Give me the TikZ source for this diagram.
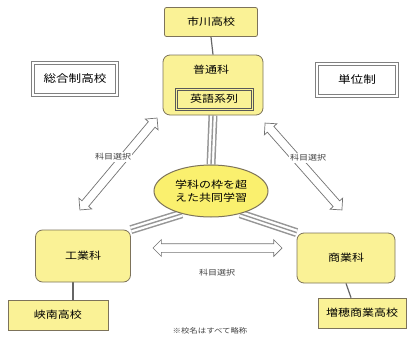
\documentclass[tikz,border=0pt]{standalone}
\usepackage{fontspec}
\newfontfamily\jp[FakeStretch=1.2]{Noto Sans CJK JP}
\usetikzlibrary{shapes.geometric,shapes.arrows,backgrounds}
\definecolor{ylw}{RGB}{250,242,150}
\definecolor{ylwb}{RGB}{125,115,90}
\definecolor{ellf}{RGB}{250,240,110}
\definecolor{lgray}{RGB}{150,150,150}
\begin{document}
\begin{tikzpicture}[x=1pt,y=-1pt,
  ybox/.style={draw=ylwb, fill=ylw, line width=0.8pt, rounded corners=2pt, inner sep=0pt,
    font=\jp\fontsize{10}{12}\selectfont},
  kbox/.style={ybox, rounded corners=7pt},
  gbox/.style={draw=black!50, double=white, double distance=2.6pt, line width=1pt, fill=white,
    inner sep=0pt, font=\jp\fontsize{10.5}{12}\selectfont},
  txt/.style={font=\jp\fontsize{10}{12}\selectfont, inner sep=0pt},
  lab/.style={font=\jp\fontsize{7.5}{9}\selectfont, fill=white, inner sep=1.2pt, text=black!75},
  triple/.style={draw=lgray, line width=9pt, postaction={draw=white, line width=6pt},
    postaction={draw=lgray, line width=1.4pt}},
  conn/.style={draw=black!60, line width=1.2pt},
  darr/.style={double arrow, draw=black!55, fill=white, line width=0.7pt, inner xsep=0pt,
    inner ysep=4pt, double arrow head extend=4pt, double arrow head indent=0pt}
]
\useasboundingbox (0,0) rectangle (410,343);

% top school and general course
\node[ybox, minimum width=93pt, minimum height=29pt] (ichi) at (211,22) {市川高校};
\node[kbox, minimum width=100pt, minimum height=60pt] (futsu) at (213,85) {};
\node[txt] (futsuT) at (211,70) {普通科};
\node[draw=black!65, line width=0.6pt, fill=ylw, inner sep=0pt, font=\jp\fontsize{10}{12}\selectfont,
  minimum width=78pt, minimum height=22pt] (eigo) at (214,99) {英語系列};
\draw[black!65, line width=0.5pt] ([shift={(2.2,2.2)}]eigo.north west) rectangle ([shift={(-2.2,-2.2)}]eigo.south east);

% side boxes
\node[gbox, minimum width=84pt, minimum height=32pt] (sogo) at (75,79) {総合制高校};
\node[gbox, minimum width=80pt, minimum height=32pt] (tani) at (357,80) {単位制};

% center ellipse
\node[ellipse, draw=ylwb, fill=ellf, line width=1pt, minimum width=114pt, minimum height=52pt,
  inner sep=0pt, align=center, font=\jp\fontsize{10}{12.5}\selectfont] (ell) at (211,191)
  {学科の枠を超\\えた共同学習};

% bottom departments
\node[kbox, minimum width=95pt, minimum height=52pt] (kogyo) at (83,256) {工業科};
\node[ybox, rounded corners=0pt, minimum width=100pt, minimum height=30pt] (kyonan) at (58,315) {峡南高校};
\node[kbox, minimum width=98pt, minimum height=50pt] (shogyo) at (346,258) {商業科};
\node[ybox, rounded corners=0pt, minimum width=88pt, minimum height=30pt] (masuho) at (362,313) {増穂商業高校};

% connectors in background
\begin{scope}[on background layer]
  \draw[conn] (ichi.south) -- (futsu.north);
  \draw[conn] (kogyo.south -| 73,0) -- (kyonan.north -| 73,0);
  \draw[conn] (shogyo.south) -- (masuho.north -| 351,0);
  \draw[triple] (futsu.south) -- (ell.north);
  \draw[triple] (ell.218) -- (kogyo.north east);
  \draw[triple] (ell.322) -- (shogyo.north west);
\end{scope}

% course-selection arrows
\node[darr, minimum height=120pt, rotate=50] (a1) at (118.5,164) {};
\node[darr, minimum height=116pt, rotate=-48.5] (a2) at (303.5,166.5) {};
\node[darr, minimum height=129pt] (a3) at (217.5,248) {};
\node[lab] (l1) at (113,157) {科目選択};
\node[lab] (l2) at (308,158) {科目選択};
\node[lab, fill=none] (l3) at (217,273) {科目選択};

\node[lab, fill=none, font=\jp\fontsize{7}{8}\selectfont] (note) at (210,331) {※校名はすべて略称};
\end{tikzpicture}
\end{document}
